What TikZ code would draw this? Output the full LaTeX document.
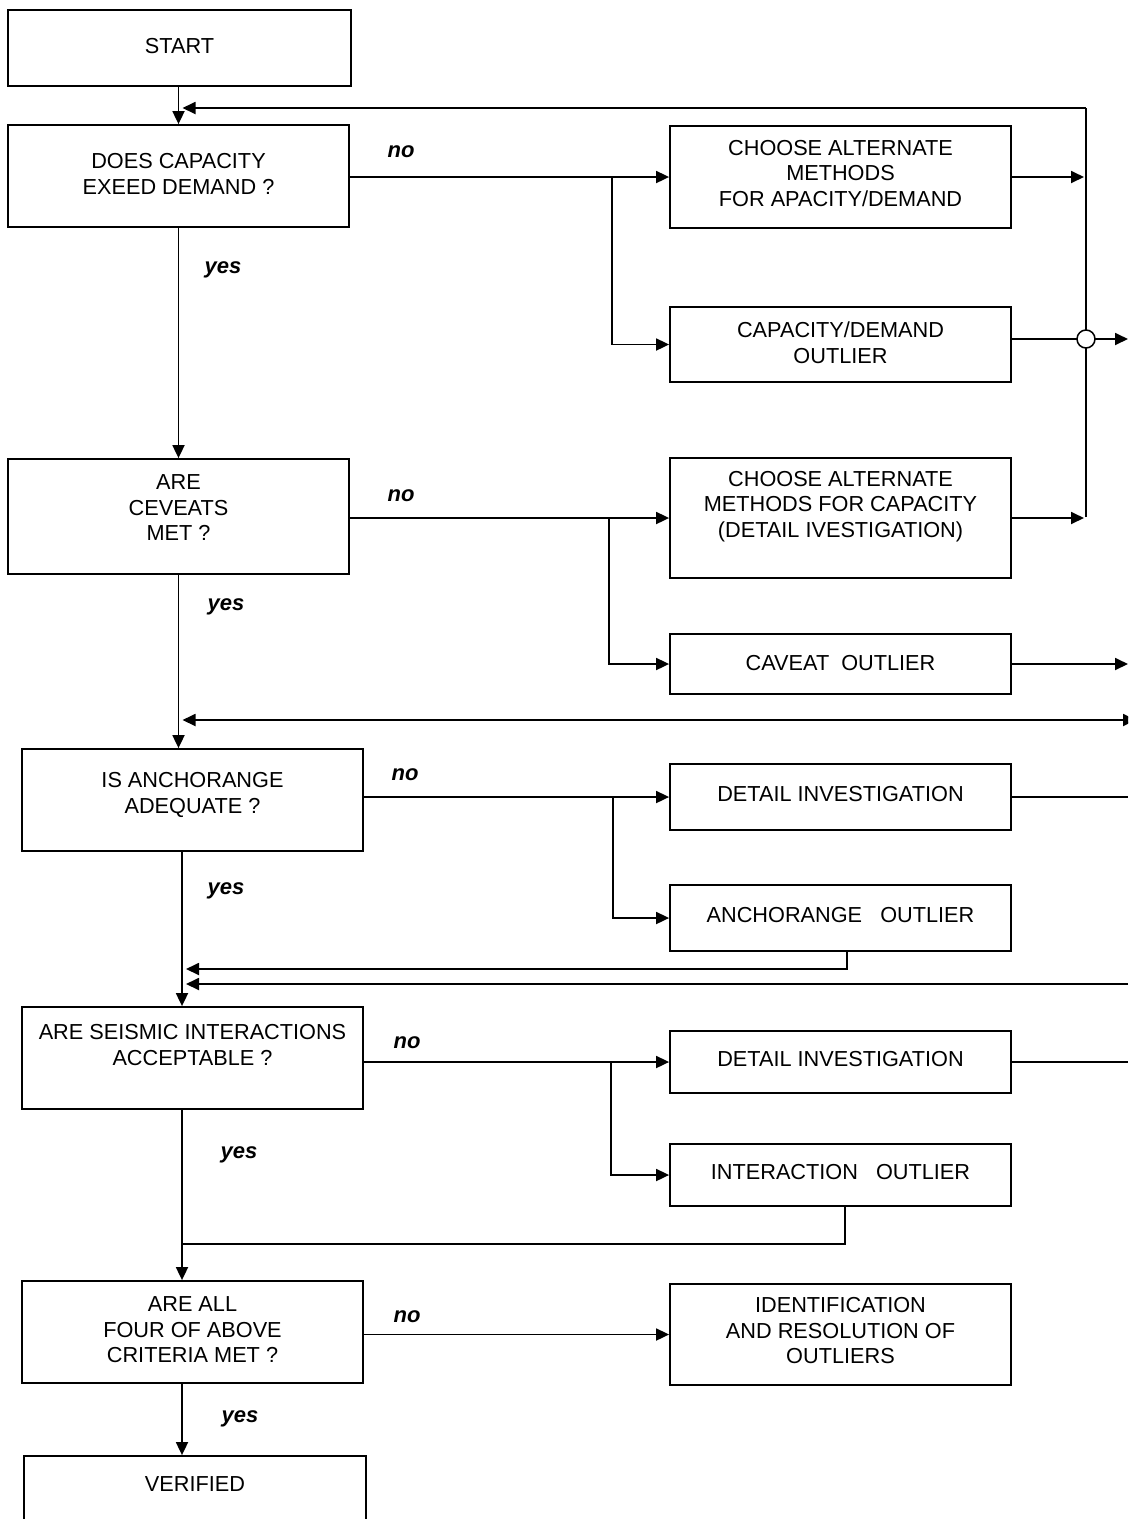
\documentclass[tikz,border=0pt]{standalone}
\usepackage{fontspec}
\setmainfont{Liberation Sans}
\usetikzlibrary{arrows.meta,calc}
\begin{document}
\begin{tikzpicture}[x=1pt,y=-1pt,
  box/.style={draw, line width=1.8pt, inner sep=0pt},
  txt/.style={font=\fontsize{21.7}{25.5}\selectfont, align=center, inner sep=0pt},
  lab/.style={font=\fontsize{22}{25}\selectfont\bfseries\itshape, inner sep=0pt, text height=11pt, text depth=0pt},
  conn/.style={line width=1.8pt},
  arr/.style={conn, -{Triangle[length=13pt,width=12pt]}},
]
\useasboundingbox (0,0) rectangle (1128,1519);
\clip (0,0) rectangle (1128,1519);
\fill[white] (0,0) rectangle (1128,1519);

% ---- left column boxes
\node[box, minimum width=343pt, minimum height=76pt]  (start) at (179.5,48) {};
\node[txt] (start-t) at (179.5,46) {START};
\node[box, minimum width=341pt, minimum height=102pt] (q1) at (178.5,176) {};
\node[txt] (q1-t) at (178.5,174) {DOES CAPACITY\\EXEED DEMAND ?};
\node[box, minimum width=341pt, minimum height=115pt] (q2) at (178.5,516.5) {};
\node[txt] (q2-t) at (178.5,508) {ARE\\CEVEATS\\MET ?};
\node[box, minimum width=341pt, minimum height=102pt] (q3) at (192.5,800) {};
\node[txt] (q3-t) at (192.5,795) {IS ANCHORANGE\\ADEQUATE ?};
\node[box, minimum width=341pt, minimum height=102pt] (q4) at (192.5,1058) {};
\node[txt] (q4-t) at (192.5,1045) {ARE SEISMIC INTERACTIONS\\ACCEPTABLE ?};
\node[box, minimum width=341pt, minimum height=102pt] (q5) at (192.5,1332) {};
\node[txt] (q5-t) at (192.5,1330) {ARE ALL\\FOUR OF ABOVE\\CRITERIA MET ?};
\node[box, minimum width=342pt, minimum height=104pt] (ver) at (195,1508) {};
\node[txt] (ver-t) at (195,1484) {VERIFIED};

% ---- right column boxes
\node[box, minimum width=341pt, minimum height=102pt] (r1) at (840.5,177) {};
\node[txt] (r1-t) at (840.5,173.5) {CHOOSE ALTERNATE\\METHODS\\FOR APACITY/DEMAND};
\node[box, minimum width=341pt, minimum height=75pt] (r2) at (840.5,344.5) {};
\node[txt] (r2-t) at (840.5,342.5) {CAPACITY/DEMAND\\OUTLIER};
\node[box, minimum width=341pt, minimum height=120pt] (r3) at (840.5,518) {};
\node[txt] (r3-t) at (840.5,506.5) {CHOOSE ALTERNATE\\METHODS FOR CAPACITY\\(DETAIL IVESTIGATION)};
\node[box, minimum width=341pt, minimum height=60pt] (r4) at (840.5,664) {};
\node[txt] (r4-t) at (840.5,663) {CAVEAT\ \ OUTLIER};
\node[box, minimum width=341pt, minimum height=66pt] (r5) at (840.5,797) {};
\node[txt] (r5-t) at (840.5,794) {DETAIL INVESTIGATION};
\node[box, minimum width=341pt, minimum height=66pt] (r6) at (840.5,918) {};
\node[txt] (r6-t) at (840.5,915) {ANCHORANGE\ \ \ OUTLIER};
\node[box, minimum width=341pt, minimum height=62pt] (r7) at (840.5,1062) {};
\node[txt] (r7-t) at (840.5,1059) {DETAIL INVESTIGATION};
\node[box, minimum width=341pt, minimum height=62pt] (r8) at (840.5,1175) {};
\node[txt] (r8-t) at (840.5,1172) {INTERACTION\ \ \ OUTLIER};
\node[box, minimum width=341pt, minimum height=101pt] (r9) at (840.5,1334.5) {};
\node[txt] (r9-t) at (840.5,1331) {IDENTIFICATION\\AND RESOLUTION OF\\OUTLIERS};

% ---- labels
\node[lab] (no1) at (401,152) {no};
\node[lab] (yes1) at (223,268) {yes};
\node[lab] (no2) at (401,496) {no};
\node[lab] (yes2) at (226,605) {yes};
\node[lab] (no3) at (405,775) {no};
\node[lab] (yes3) at (226,889) {yes};
\node[lab] (no4) at (407,1043) {no};
\node[lab] (yes4) at (239,1153) {yes};
\node[lab] (no5) at (407,1317) {no};
\node[lab] (yes5) at (240,1417) {yes};

% ---- helper coordinates
\coordinate (busT) at (1086,108);
\coordinate (busB) at (1086,517);
\coordinate (hop) at (1086,339);
\coordinate (out1) at (1128,339);
\coordinate (out2) at (1128,664);
\coordinate (e720) at (1136,720);
\coordinate (out3) at (1128,797);
\coordinate (in4) at (1128,984);
\coordinate (out5) at (1128,1062);
\coordinate (b1) at (612,0);
\coordinate (b2) at (609,0);
\coordinate (b3) at (613,0);
\coordinate (b4) at (611,0);
\coordinate (colB) at (182,0);
\coordinate (r6x) at (847,0);
\coordinate (r8x) at (845,0);
\coordinate (y969) at (0,969);
\coordinate (y1244) at (0,1244);

% ---- connectors
\draw[arr] (q1.north |- start.south) -- (q1.north);
\draw[conn] (busB) -- (busT);
\draw[arr, shorten >=4pt] (busT) -- (busT -| q1.north);
\draw[arr, shorten >=2pt] (r1.east) -- (r1.east -| busT);
\draw[arr, shorten >=2pt] (r3.east) -- (r3.east -| busT);
\draw[arr] (r2.east |- hop) -- (out1);
\draw[line width=1.5pt, fill=white] (hop) circle (9pt);

\draw[arr] (q1.east |- r1.west) -- (r1.west);
\draw[arr] (b1 |- r1.west) |- (r2.west);
\draw[arr] (q1.south) -- (q1.south |- q2.north);

\draw[arr] (q2.east |- r3.west) -- (r3.west);
\draw[arr] (b2 |- r3.west) |- (r4.west);
\draw[arr] (r4.east) -- (out2);
\draw[arr] (q2.south) -- (q2.south |- q3.north);
\draw[conn, {Triangle[length=13pt,width=12pt]}-{Triangle[length=13pt,width=12pt]}, shorten <=4pt]
  (q2.south |- e720) -- (e720);

\draw[arr] (q3.east |- r5.west) -- (r5.west);
\draw[arr] (b3 |- r5.west) |- (r6.west);
\draw[conn] (r5.east) -- (out3);
\draw[arr, shorten >=4pt] (r6x |- r6.south) |- (colB |- y969);
\draw[arr, shorten >=4pt] (in4) -- (colB |- in4);
\draw[arr] (colB |- q3.south) -- (colB |- q4.north);

\draw[arr] (q4.east |- r7.west) -- (r7.west);
\draw[arr] (b4 |- r7.west) |- (r8.west);
\draw[conn] (r7.east) -- (out5);
\draw[conn] (r8x |- r8.south) |- (colB |- y1244);
\draw[arr] (colB |- q4.south) -- (colB |- q5.north);

\draw[arr] (q5.east |- r9.west) -- (r9.west);
\draw[arr] (colB |- q5.south) -- (colB |- ver.north);
\end{tikzpicture}
\end{document}
